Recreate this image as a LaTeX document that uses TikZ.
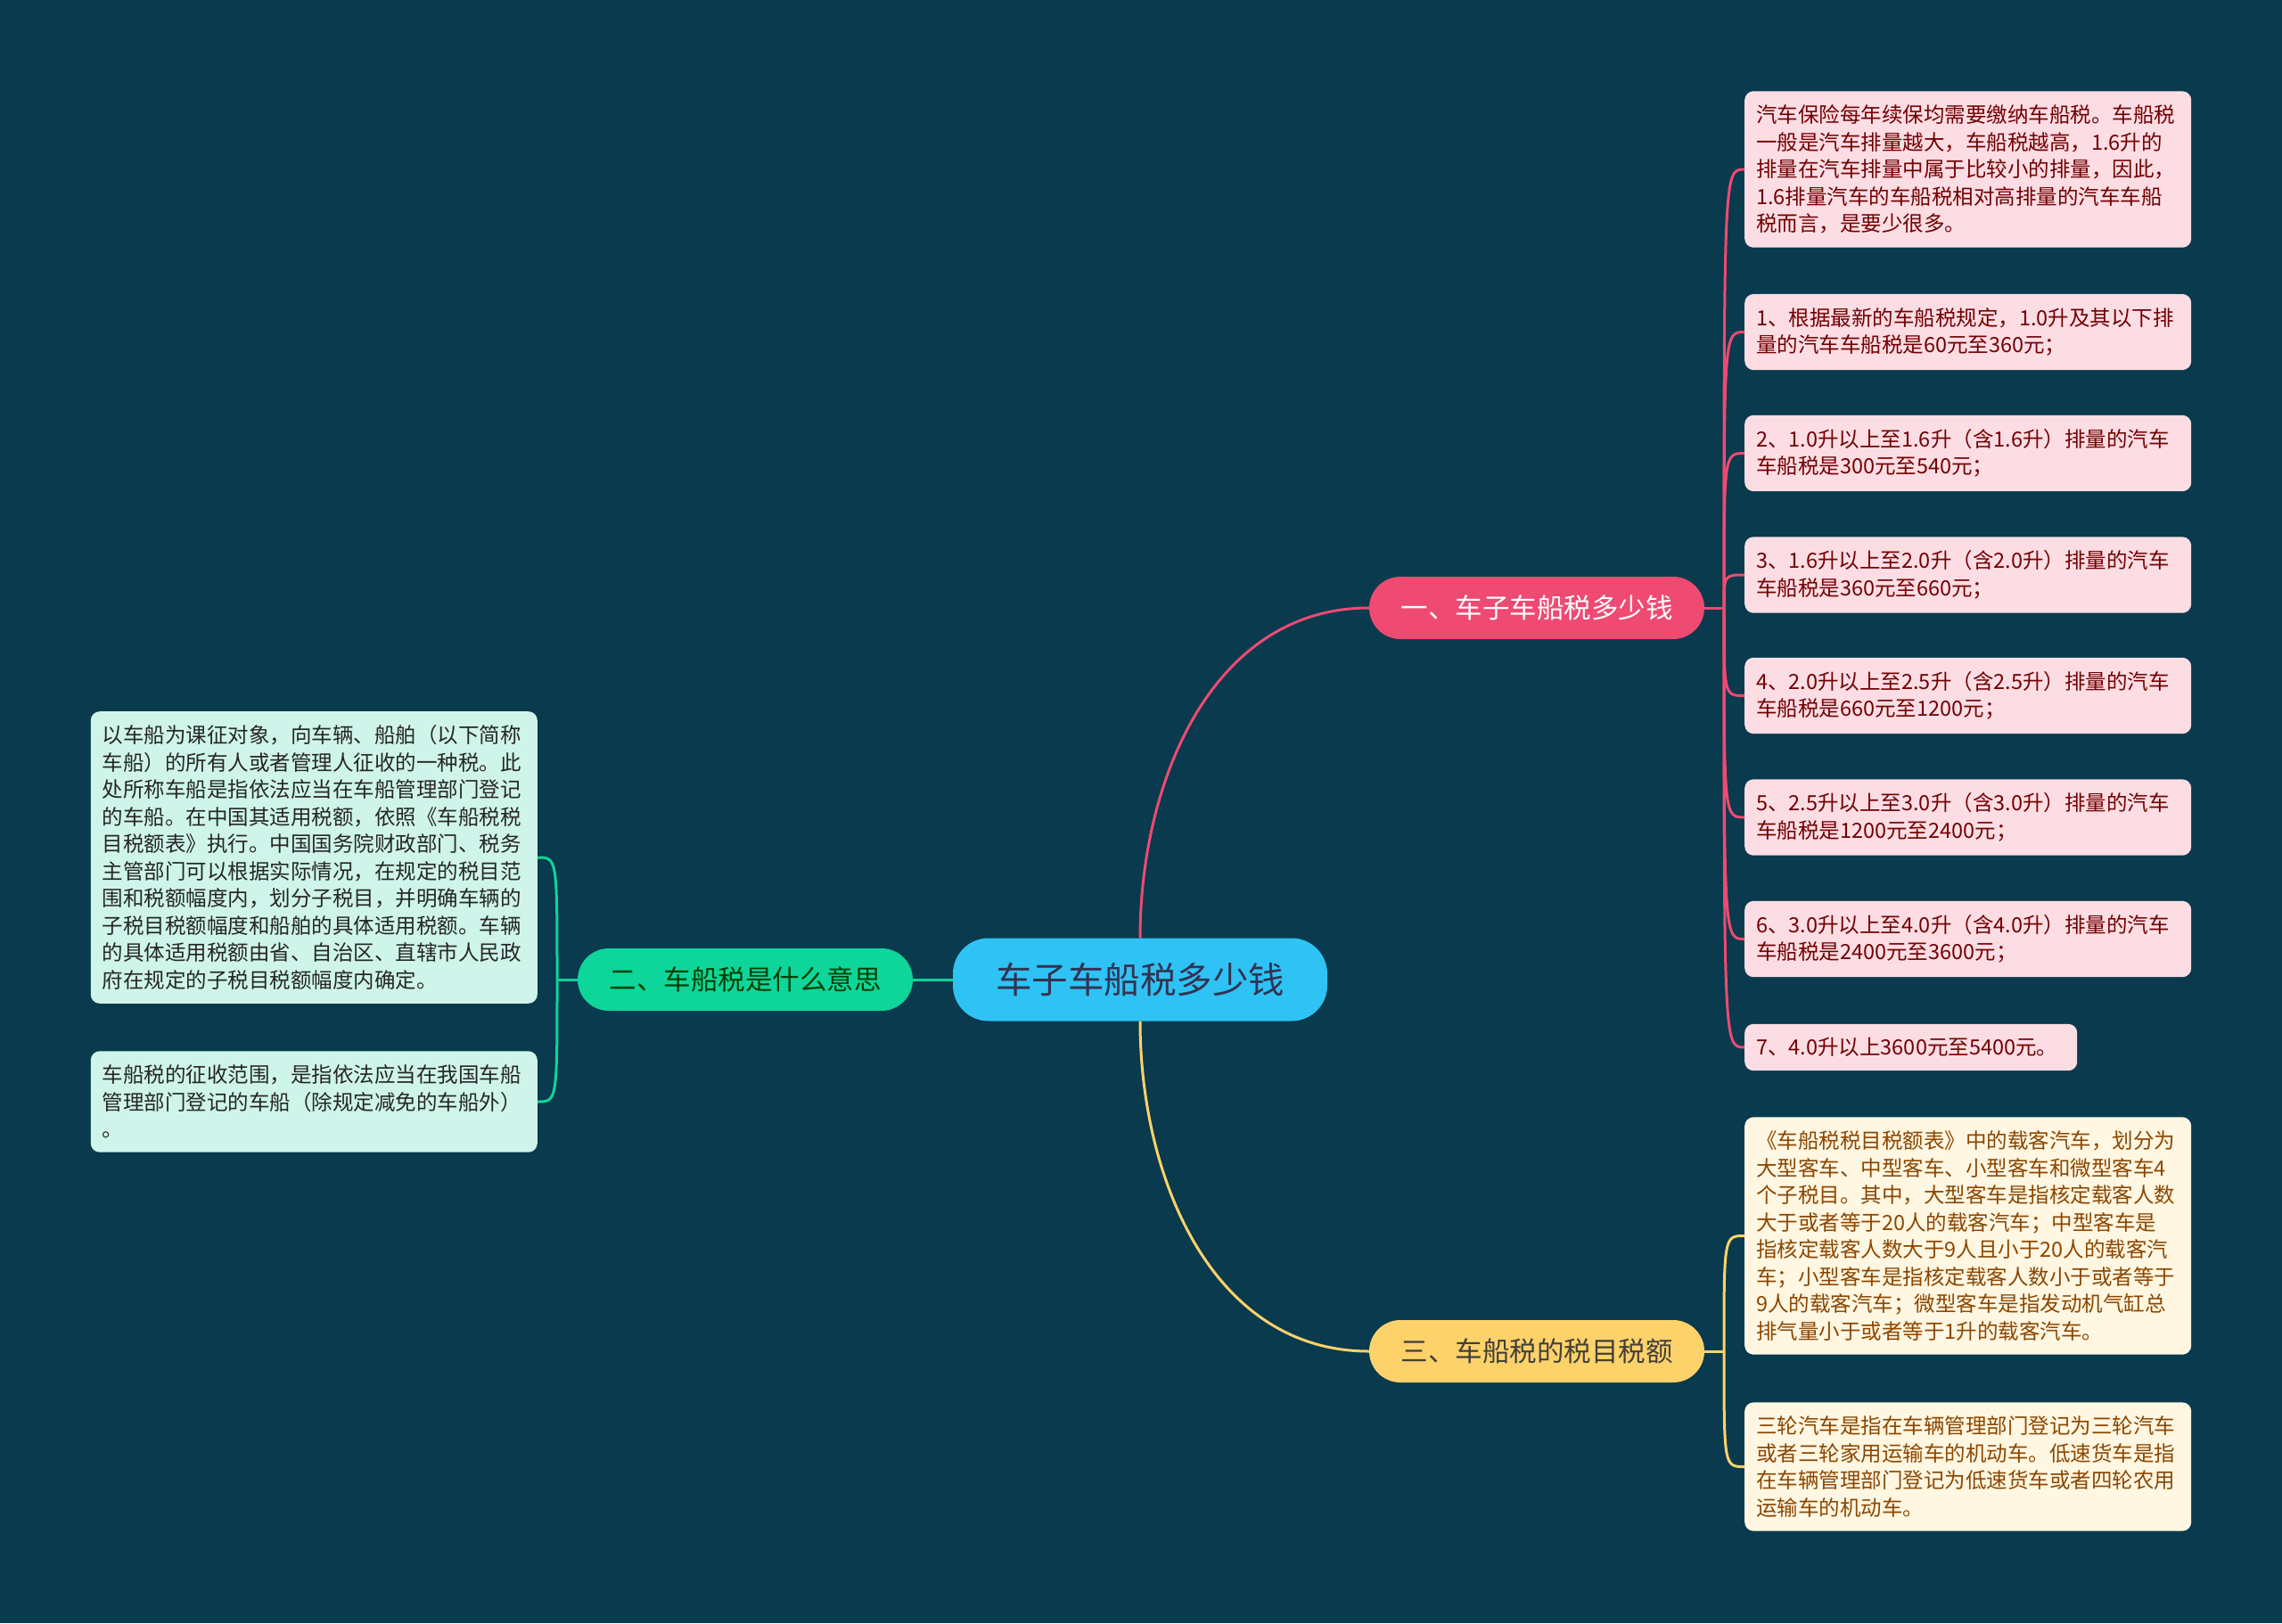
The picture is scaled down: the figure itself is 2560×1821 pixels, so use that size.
\documentclass[tikz,border=0pt]{standalone}
\usepackage{fontspec}
\setmainfont{Noto Sans CJK SC}
\usetikzlibrary{positioning}
\definecolor{bgcol}{HTML}{093A4D}
\definecolor{rootcol}{HTML}{2EC3F4}
\definecolor{pinkcol}{HTML}{EE4A72}
\definecolor{greencol}{HTML}{0ED59A}
\definecolor{yellowcol}{HTML}{FDD26A}
\definecolor{pinkfill}{HTML}{FCDDE4}
\definecolor{greenfill}{HTML}{CFF5EA}
\definecolor{yellowfill}{HTML}{FFF7E2}
\tikzset{
  rootbox/.style={fill=rootcol,rounded corners=40pt,minimum width=420pt,
    minimum height=93pt,inner sep=0pt,text=black!80!blue!60!gray,
    font=\fontsize{40.5}{46}\selectfont},
  brbox/.style={rounded corners=35pt,minimum width=376pt,minimum height=70pt,
    inner sep=0pt,font=\fontsize{30.5}{36}\selectfont},
  leafbox/.style={rounded corners=10pt,inner xsep=13pt,inner ysep=15.5pt,
    align=left,font=\fontsize{23.5}{30.5}\selectfont},
  leafw/.style={leafbox,text width=475pt},
  pinkleaf/.style={leafw,fill=pinkfill,text=red!45!black},
  greenleaf/.style={leafw,fill=greenfill,text=black!85},
  yellowleaf/.style={leafw,fill=yellowfill,text=orange!55!black},
  pinkedge/.style={draw=pinkcol,line width=3pt},
  greenedge/.style={draw=greencol,line width=3pt},
  yellowedge/.style={draw=yellowcol,line width=3pt},
}

\begin{document}
\begin{tikzpicture}[x=1pt,y=-1pt]
  \fill[bgcol] (0,0) rectangle (2560,1821);
  \useasboundingbox (0,0) rectangle (2560,1821);

  % centre and main branches
  \node[rootbox] (root) at (1279,1099) {车子车船税多少钱};
  \node[brbox,fill=pinkcol,text=white] (b1) at (1724,682) {一、车子车船税多少钱};
  \node[brbox,fill=greencol,text=black!75!green] (b2) at (836,1099) {二、车船税是什么意思};
  \node[brbox,fill=yellowcol,text=black!85!yellow] (b3) at (1724,1516) {三、车船税的税目税额};

  % pink leaves
  \node[pinkleaf,anchor=west] (p1) at (1957,190) {汽车保险每年续保均需要缴纳车船税。车船税\\
    一般是汽车排量越大，车船税越高，1.6升的\\
    排量在汽车排量中属于比较小的排量，因此，\\
    1.6排量汽车的车船税相对高排量的汽车车船\\
    税而言，是要少很多。};
  \node[pinkleaf,anchor=west] (p2) at (1957,372.5) {1、根据最新的车船税规定，1.0升及其以下排\\
    量的汽车车船税是60元至360元；};
  \node[pinkleaf,anchor=west] (p3) at (1957,508.5) {2、1.0升以上至1.6升（含1.6升）排量的汽车\\
    车船税是300元至540元；};
  \node[pinkleaf,anchor=west] (p4) at (1957,645) {3、1.6升以上至2.0升（含2.0升）排量的汽车\\
    车船税是360元至660元；};
  \node[pinkleaf,anchor=west] (p5) at (1957,780.5) {4、2.0升以上至2.5升（含2.5升）排量的汽车\\
    车船税是660元至1200元；};
  \node[pinkleaf,anchor=west] (p6) at (1957,917) {5、2.5升以上至3.0升（含3.0升）排量的汽车\\
    车船税是1200元至2400元；};
  \node[pinkleaf,anchor=west] (p7) at (1957,1053.5) {6、3.0升以上至4.0升（含4.0升）排量的汽车\\
    车船税是2400元至3600元；};
  \node[leafbox,text width=347pt,fill=pinkfill,text=red!45!black,anchor=west] (p8) at (1957,1175)
    {7、4.0升以上3600元至5400元。};

  % green leaves
  \node[greenleaf,anchor=east] (g1) at (603,962) {以车船为课征对象，向车辆、船舶（以下简称\\
    车船）的所有人或者管理人征收的一种税。此\\
    处所称车船是指依法应当在车船管理部门登记\\
    的车船。在中国其适用税额，依照《车船税税\\
    目税额表》执行。中国国务院财政部门、税务\\
    主管部门可以根据实际情况，在规定的税目范\\
    围和税额幅度内，划分子税目，并明确车辆的\\
    子税目税额幅度和船舶的具体适用税额。车辆\\
    的具体适用税额由省、自治区、直辖市人民政\\
    府在规定的子税目税额幅度内确定。};
  \node[greenleaf,anchor=east] (g2) at (603,1236) {车船税的征收范围，是指依法应当在我国车船\\
    管理部门登记的车船（除规定减免的车船外）\\
    。};

  % yellow leaves
  \node[yellowleaf,anchor=west] (y1) at (1957,1386.5) {《车船税税目税额表》中的载客汽车，划分为\\
    大型客车、中型客车、小型客车和微型客车4\\
    个子税目。其中，大型客车是指核定载客人数\\
    大于或者等于20人的载客汽车；中型客车是\\
    指核定载客人数大于9人且小于20人的载客汽\\
    车；小型客车是指核定载客人数小于或者等于\\
    9人的载客汽车；微型客车是指发动机气缸总\\
    排气量小于或者等于1升的载客汽车。};
  \node[yellowleaf,anchor=west] (y2) at (1957,1645.5) {三轮汽车是指在车辆管理部门登记为三轮汽车\\
    或者三轮家用运输车的机动车。低速货车是指\\
    在车辆管理部门登记为低速货车或者四轮农用\\
    运输车的机动车。};

  % junctions
  \coordinate (b1j) at (1934,682);
  \coordinate (b2j) at (625,1099);
  \coordinate (b3j) at (1934,1516);

  % connectors
  \draw[pinkedge] (root.north) to[out=90,in=180] (b1.west);
  \draw[yellowedge] (root.south) to[out=-90,in=180] (b3.west);
  \draw[greenedge] (root.west) -- (b2.east);
  \draw[pinkedge] (b1.east) -- (b1j);
  \draw[greenedge] (b2.west) -- (b2j);
  \draw[yellowedge] (b3.east) -- (b3j);
  \foreach \n in {p1,p2,p3,p4,p5,p6,p7,p8}
    \draw[pinkedge] (b1j) .. controls (b1j |- \n.west) .. (\n.west);
  \foreach \n in {g1,g2}
    \draw[greenedge] (b2j) .. controls (b2j |- \n.east) .. (\n.east);
  \foreach \n in {y1,y2}
    \draw[yellowedge] (b3j) .. controls (b3j |- \n.west) .. (\n.west);
\end{tikzpicture}
\end{document}
